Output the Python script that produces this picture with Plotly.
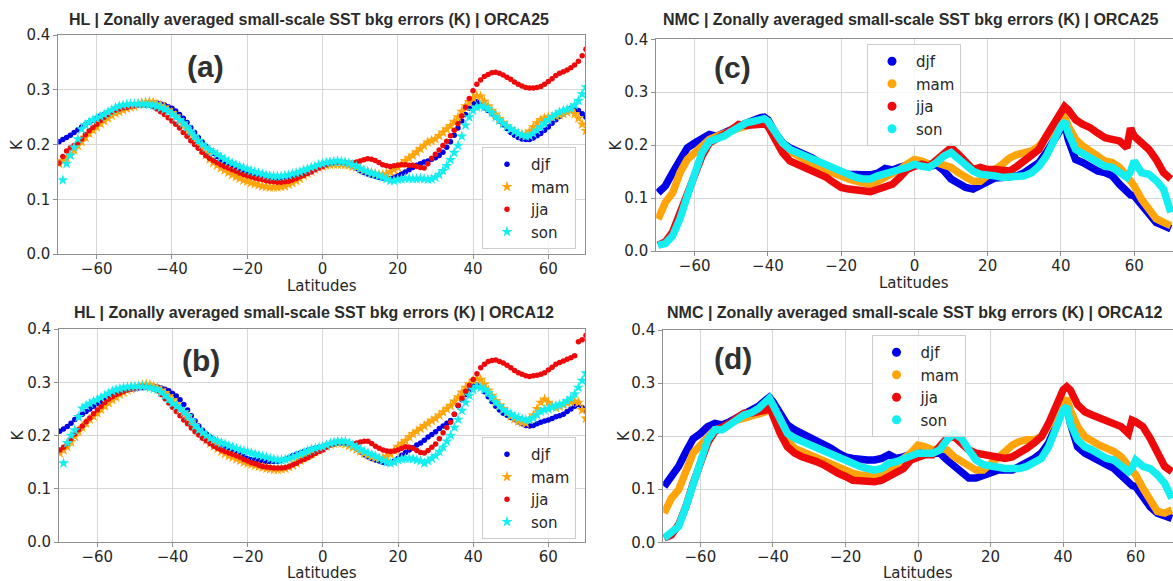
import plotly.graph_objects as go

# ---------------- data ----------------
lat_hl = list(range(-70, 71))

hl25_djf = [
    0.205, 0.209, 0.213, 0.217, 0.222, 0.227, 0.232, 0.236, 0.240, 0.244,
    0.248, 0.252, 0.255, 0.258, 0.260, 0.263, 0.266, 0.268, 0.270, 0.271,
    0.272, 0.273, 0.274, 0.275, 0.276, 0.276, 0.276, 0.274, 0.272, 0.269,
    0.266, 0.261, 0.255, 0.248, 0.240, 0.231, 0.222, 0.213, 0.205, 0.197,
    0.190, 0.184, 0.178, 0.173, 0.168, 0.164, 0.160, 0.156, 0.153, 0.150,
    0.148, 0.146, 0.144, 0.142, 0.140, 0.138, 0.137, 0.136, 0.136, 0.137,
    0.138, 0.140, 0.142, 0.145, 0.148, 0.150, 0.153, 0.156, 0.158, 0.161,
    0.163, 0.165, 0.166, 0.167, 0.168, 0.167, 0.166, 0.163, 0.160, 0.156,
    0.152, 0.149, 0.146, 0.144, 0.142, 0.140, 0.139, 0.138, 0.138, 0.140,
    0.143, 0.146, 0.150, 0.154, 0.158, 0.162, 0.165, 0.168, 0.170, 0.173,
    0.176, 0.180, 0.186, 0.195, 0.205, 0.217, 0.230, 0.243, 0.255, 0.266,
    0.275, 0.278, 0.272, 0.267, 0.262, 0.256, 0.250, 0.243, 0.236, 0.229,
    0.222, 0.217, 0.213, 0.210, 0.209, 0.209, 0.212, 0.216, 0.220, 0.226,
    0.232, 0.239, 0.245, 0.251, 0.256, 0.261, 0.266, 0.266, 0.262, 0.256,
    0.250]
hl25_mam = [
    0.165, 0.170, 0.175, 0.182, 0.190, 0.198, 0.205, 0.213, 0.220, 0.226,
    0.232, 0.238, 0.243, 0.248, 0.253, 0.257, 0.260, 0.263, 0.266, 0.268,
    0.270, 0.273, 0.276, 0.277, 0.278, 0.277, 0.274, 0.271, 0.268, 0.263,
    0.258, 0.252, 0.245, 0.237, 0.228, 0.219, 0.210, 0.200, 0.190, 0.181,
    0.173, 0.167, 0.162, 0.157, 0.153, 0.149, 0.145, 0.141, 0.138, 0.135,
    0.133, 0.130, 0.128, 0.126, 0.124, 0.123, 0.122, 0.122, 0.122, 0.123,
    0.124, 0.127, 0.130, 0.134, 0.138, 0.143, 0.147, 0.151, 0.155, 0.158,
    0.160, 0.162, 0.163, 0.164, 0.164, 0.164, 0.163, 0.162, 0.160, 0.158,
    0.155, 0.152, 0.150, 0.148, 0.146, 0.145, 0.145, 0.146, 0.150, 0.154,
    0.158, 0.164, 0.170, 0.175, 0.180, 0.186, 0.192, 0.198, 0.204, 0.207,
    0.210, 0.216, 0.222, 0.228, 0.234, 0.242, 0.250, 0.260, 0.270, 0.278,
    0.285, 0.289, 0.288, 0.279, 0.270, 0.262, 0.255, 0.247, 0.240, 0.234,
    0.228, 0.224, 0.220, 0.218, 0.218, 0.224, 0.232, 0.239, 0.245, 0.248,
    0.250, 0.251, 0.252, 0.254, 0.256, 0.259, 0.262, 0.256, 0.248, 0.237,
    0.225]
hl25_jja = [
    0.166, 0.178, 0.188, 0.194, 0.198, 0.203, 0.210, 0.218, 0.225, 0.231,
    0.237, 0.244, 0.250, 0.255, 0.260, 0.263, 0.265, 0.267, 0.268, 0.270,
    0.271, 0.272, 0.272, 0.272, 0.272, 0.269, 0.265, 0.260, 0.255, 0.249,
    0.243, 0.237, 0.230, 0.222, 0.215, 0.207, 0.200, 0.193, 0.186, 0.180,
    0.175, 0.171, 0.167, 0.163, 0.160, 0.157, 0.154, 0.151, 0.148, 0.145,
    0.143, 0.141, 0.139, 0.137, 0.136, 0.134, 0.133, 0.132, 0.131, 0.131,
    0.132, 0.133, 0.135, 0.138, 0.141, 0.144, 0.147, 0.150, 0.154, 0.157,
    0.160, 0.163, 0.166, 0.167, 0.168, 0.168, 0.167, 0.166, 0.166, 0.168,
    0.170, 0.172, 0.174, 0.173, 0.171, 0.167, 0.163, 0.161, 0.160, 0.161,
    0.162, 0.163, 0.163, 0.162, 0.162, 0.160, 0.158, 0.157, 0.165, 0.175,
    0.182, 0.190, 0.198, 0.206, 0.216, 0.226, 0.238, 0.252, 0.268, 0.284,
    0.298, 0.310, 0.318, 0.324, 0.328, 0.331, 0.332, 0.330, 0.327, 0.323,
    0.319, 0.314, 0.310, 0.307, 0.304, 0.303, 0.303, 0.304, 0.306, 0.310,
    0.315, 0.320, 0.326, 0.330, 0.333, 0.336, 0.340, 0.345, 0.352, 0.362,
    0.374]
hl25_son = [
    None, 0.135, 0.165, 0.180, 0.195, 0.210, 0.228, 0.236, 0.241, 0.245,
    0.248, 0.251, 0.255, 0.259, 0.263, 0.267, 0.270, 0.272, 0.273, 0.274,
    0.274, 0.274, 0.274, 0.274, 0.273, 0.272, 0.270, 0.267, 0.264, 0.260,
    0.255, 0.250, 0.245, 0.239, 0.232, 0.224, 0.215, 0.207, 0.200, 0.195,
    0.190, 0.186, 0.182, 0.177, 0.173, 0.169, 0.166, 0.163, 0.160, 0.157,
    0.155, 0.152, 0.150, 0.148, 0.146, 0.144, 0.143, 0.142, 0.142, 0.142,
    0.143, 0.144, 0.146, 0.148, 0.150, 0.153, 0.155, 0.158, 0.160, 0.163,
    0.165, 0.167, 0.168, 0.169, 0.170, 0.169, 0.168, 0.166, 0.163, 0.160,
    0.156, 0.153, 0.150, 0.148, 0.146, 0.143, 0.140, 0.137, 0.134, 0.134,
    0.136, 0.137, 0.138, 0.138, 0.137, 0.137, 0.138, 0.137, 0.136, 0.137,
    0.140, 0.145, 0.152, 0.161, 0.172, 0.185, 0.198, 0.215, 0.235, 0.250,
    0.262, 0.268, 0.270, 0.268, 0.265, 0.258, 0.250, 0.244, 0.238, 0.233,
    0.228, 0.224, 0.220, 0.217, 0.215, 0.216, 0.220, 0.226, 0.232, 0.239,
    0.245, 0.250, 0.255, 0.259, 0.262, 0.264, 0.266, 0.272, 0.280, 0.292,
    0.305]

hl12_djf = [
    0.208, 0.212, 0.217, 0.223, 0.230, 0.235, 0.240, 0.245, 0.250, 0.255,
    0.260, 0.264, 0.268, 0.272, 0.275, 0.278, 0.280, 0.283, 0.285, 0.287,
    0.288, 0.289, 0.290, 0.291, 0.292, 0.292, 0.291, 0.289, 0.287, 0.284,
    0.279, 0.274, 0.267, 0.258, 0.248, 0.237, 0.227, 0.218, 0.210, 0.203,
    0.197, 0.192, 0.188, 0.184, 0.180, 0.176, 0.172, 0.168, 0.164, 0.160,
    0.157, 0.155, 0.154, 0.153, 0.152, 0.151, 0.151, 0.151, 0.151, 0.153,
    0.155, 0.158, 0.162, 0.165, 0.167, 0.170, 0.172, 0.174, 0.176, 0.178,
    0.179, 0.182, 0.184, 0.186, 0.188, 0.188, 0.186, 0.183, 0.179, 0.174,
    0.169, 0.164, 0.160, 0.157, 0.154, 0.152, 0.150, 0.149, 0.149, 0.152,
    0.157, 0.163, 0.168, 0.173, 0.177, 0.182, 0.186, 0.191, 0.197, 0.202,
    0.207, 0.213, 0.218, 0.223, 0.228, 0.240, 0.256, 0.267, 0.277, 0.286,
    0.293, 0.295, 0.290, 0.282, 0.273, 0.264, 0.255, 0.248, 0.242, 0.238,
    0.234, 0.230, 0.226, 0.222, 0.219, 0.218, 0.219, 0.222, 0.225, 0.227,
    0.229, 0.232, 0.235, 0.237, 0.240, 0.245, 0.250, 0.255, 0.258, 0.252,
    0.245]
hl12_mam = [
    0.167, 0.173, 0.179, 0.188, 0.198, 0.207, 0.215, 0.223, 0.230, 0.236,
    0.242, 0.249, 0.255, 0.261, 0.267, 0.272, 0.277, 0.281, 0.285, 0.288,
    0.290, 0.293, 0.295, 0.296, 0.295, 0.292, 0.289, 0.285, 0.280, 0.274,
    0.267, 0.259, 0.250, 0.243, 0.235, 0.225, 0.215, 0.206, 0.198, 0.191,
    0.185, 0.180, 0.175, 0.170, 0.166, 0.162, 0.159, 0.156, 0.153, 0.150,
    0.148, 0.146, 0.144, 0.142, 0.140, 0.138, 0.137, 0.136, 0.136, 0.137,
    0.138, 0.141, 0.144, 0.148, 0.153, 0.158, 0.162, 0.166, 0.170, 0.173,
    0.176, 0.180, 0.183, 0.185, 0.186, 0.186, 0.184, 0.181, 0.178, 0.174,
    0.170, 0.166, 0.163, 0.160, 0.158, 0.157, 0.158, 0.161, 0.165, 0.172,
    0.179, 0.185, 0.190, 0.197, 0.203, 0.208, 0.213, 0.218, 0.223, 0.228,
    0.232, 0.238, 0.244, 0.250, 0.256, 0.264, 0.272, 0.281, 0.290, 0.297,
    0.303, 0.307, 0.305, 0.296, 0.285, 0.275, 0.265, 0.257, 0.250, 0.243,
    0.236, 0.231, 0.227, 0.224, 0.223, 0.230, 0.238, 0.250, 0.262, 0.268,
    0.262, 0.255, 0.252, 0.255, 0.258, 0.261, 0.263, 0.264, 0.262, 0.248,
    0.232]
hl12_jja = [
    0.173, 0.178, 0.185, 0.194, 0.203, 0.211, 0.218, 0.226, 0.233, 0.241,
    0.248, 0.255, 0.262, 0.268, 0.273, 0.277, 0.280, 0.283, 0.286, 0.288,
    0.289, 0.291, 0.292, 0.291, 0.290, 0.288, 0.284, 0.277, 0.269, 0.261,
    0.253, 0.245, 0.237, 0.229, 0.222, 0.214, 0.207, 0.201, 0.195, 0.190,
    0.185, 0.180, 0.176, 0.173, 0.170, 0.167, 0.165, 0.162, 0.159, 0.155,
    0.152, 0.149, 0.147, 0.144, 0.142, 0.141, 0.140, 0.139, 0.139, 0.139,
    0.140, 0.142, 0.145, 0.148, 0.152, 0.155, 0.158, 0.162, 0.166, 0.170,
    0.173, 0.178, 0.182, 0.184, 0.186, 0.186, 0.186, 0.185, 0.185, 0.186,
    0.188, 0.189, 0.189, 0.185, 0.180, 0.176, 0.173, 0.171, 0.170, 0.171,
    0.173, 0.176, 0.179, 0.178, 0.176, 0.172, 0.168, 0.167, 0.172, 0.178,
    0.184, 0.194, 0.205, 0.215, 0.225, 0.240, 0.257, 0.270, 0.283, 0.294,
    0.305, 0.316, 0.327, 0.334, 0.339, 0.341, 0.342, 0.339, 0.336, 0.332,
    0.327, 0.322, 0.318, 0.315, 0.312, 0.311, 0.312, 0.313, 0.315, 0.318,
    0.323, 0.328, 0.334, 0.337, 0.340, 0.343, 0.346, 0.350, 0.376, 0.380,
    0.388]
hl12_son = [
    None, 0.148, 0.186, 0.200, 0.210, 0.235, 0.251, 0.256, 0.260, 0.264,
    0.267, 0.271, 0.275, 0.279, 0.283, 0.286, 0.288, 0.290, 0.291, 0.292,
    0.292, 0.292, 0.292, 0.291, 0.290, 0.288, 0.286, 0.281, 0.275, 0.268,
    0.260, 0.255, 0.250, 0.244, 0.237, 0.228, 0.218, 0.211, 0.205, 0.200,
    0.195, 0.192, 0.189, 0.186, 0.184, 0.181, 0.178, 0.175, 0.173, 0.171,
    0.169, 0.167, 0.165, 0.163, 0.161, 0.159, 0.157, 0.155, 0.154, 0.154,
    0.155, 0.157, 0.159, 0.162, 0.165, 0.168, 0.171, 0.174, 0.176, 0.178,
    0.179, 0.182, 0.185, 0.187, 0.189, 0.189, 0.189, 0.186, 0.182, 0.178,
    0.174, 0.170, 0.167, 0.164, 0.161, 0.157, 0.153, 0.150, 0.148, 0.150,
    0.154, 0.156, 0.157, 0.157, 0.156, 0.154, 0.152, 0.148, 0.152, 0.157,
    0.162, 0.170, 0.178, 0.189, 0.200, 0.215, 0.230, 0.247, 0.262, 0.275,
    0.286, 0.292, 0.290, 0.286, 0.280, 0.271, 0.262, 0.255, 0.248, 0.244,
    0.240, 0.236, 0.233, 0.231, 0.229, 0.230, 0.233, 0.239, 0.245, 0.248,
    0.250, 0.253, 0.256, 0.258, 0.260, 0.265, 0.270, 0.278, 0.290, 0.303,
    0.317]

lat_nmc = [-70, -68, -66, -64, -62, -60, -58, -56, -54, -52, -50, -48, -46, -44, -42, -41,
           -40, -38, -36, -34, -32, -30, -28, -26, -24, -22, -20, -18, -16, -14, -12, -10,
           -8, -6, -4, -2, 0, 2, 4, 6, 8, 10, 12, 14, 16, 18, 20, 22, 24, 26, 28, 30, 32,
           34, 36, 38, 40, 41, 42, 44, 46, 48, 50, 52, 54, 56, 58, 59, 60, 62, 64, 66, 68, 70]

nmc25_djf = [0.110, 0.123, 0.148, 0.175, 0.195, 0.204, 0.214, 0.220, 0.217, 0.222, 0.229, 0.236, 0.242, 0.248, 0.252, 0.253,
             0.248, 0.223, 0.204, 0.195, 0.189, 0.183, 0.176, 0.167, 0.160, 0.154, 0.148, 0.145, 0.146, 0.144, 0.144, 0.147,
             0.156, 0.153, 0.158, 0.163, 0.166, 0.164, 0.160, 0.163, 0.152, 0.136, 0.126, 0.120, 0.117, 0.123, 0.132, 0.138,
             0.139, 0.139, 0.142, 0.148, 0.157, 0.167, 0.186, 0.211, 0.236, 0.242, 0.211, 0.173, 0.167, 0.160, 0.151, 0.148,
             0.142, 0.126, 0.110, 0.106, 0.104, 0.086, 0.067, 0.054, 0.048, 0.042]
nmc25_mam = [0.060, 0.092, 0.110, 0.148, 0.173, 0.186, 0.198, 0.211, 0.217, 0.223, 0.229, 0.232, 0.236, 0.242, 0.245, 0.248,
             0.245, 0.220, 0.198, 0.189, 0.180, 0.173, 0.165, 0.158, 0.152, 0.148, 0.142, 0.136, 0.132, 0.129, 0.126, 0.132,
             0.139, 0.148, 0.154, 0.164, 0.173, 0.170, 0.164, 0.167, 0.164, 0.158, 0.148, 0.139, 0.132, 0.132, 0.145, 0.154,
             0.164, 0.176, 0.182, 0.186, 0.189, 0.198, 0.217, 0.232, 0.248, 0.254, 0.236, 0.211, 0.198, 0.189, 0.179, 0.170,
             0.167, 0.158, 0.142, 0.133, 0.123, 0.098, 0.079, 0.061, 0.054, 0.048]
nmc25_jja = [0.011, 0.017, 0.036, 0.073, 0.110, 0.148, 0.179, 0.204, 0.214, 0.220, 0.229, 0.239, 0.237, 0.239, 0.241, 0.240,
             0.236, 0.211, 0.186, 0.170, 0.164, 0.158, 0.151, 0.145, 0.139, 0.129, 0.120, 0.117, 0.117, 0.114, 0.112, 0.117,
             0.120, 0.126, 0.139, 0.154, 0.160, 0.164, 0.160, 0.173, 0.186, 0.195, 0.183, 0.167, 0.154, 0.158, 0.154, 0.154,
             0.151, 0.151, 0.160, 0.170, 0.179, 0.192, 0.217, 0.242, 0.261, 0.273, 0.267, 0.248, 0.239, 0.233, 0.223, 0.214,
             0.211, 0.208, 0.195, 0.232, 0.217, 0.204, 0.192, 0.173, 0.148, 0.136]
nmc25_son = [0.011, 0.014, 0.029, 0.061, 0.104, 0.148, 0.186, 0.207, 0.211, 0.217, 0.226, 0.236, 0.242, 0.245, 0.248, 0.250,
             0.245, 0.223, 0.204, 0.192, 0.186, 0.179, 0.173, 0.167, 0.160, 0.154, 0.148, 0.142, 0.139, 0.136, 0.136, 0.142,
             0.145, 0.148, 0.154, 0.158, 0.164, 0.160, 0.158, 0.167, 0.179, 0.186, 0.173, 0.160, 0.151, 0.145, 0.145, 0.142,
             0.139, 0.139, 0.139, 0.142, 0.148, 0.160, 0.179, 0.211, 0.236, 0.245, 0.223, 0.192, 0.183, 0.176, 0.167, 0.160,
             0.158, 0.148, 0.139, 0.150, 0.170, 0.148, 0.145, 0.133, 0.117, 0.073]

nmc12_djf = [0.105, 0.124, 0.143, 0.170, 0.195, 0.205, 0.218, 0.224, 0.221, 0.227, 0.234, 0.240, 0.246, 0.256, 0.268, 0.273,
             0.265, 0.240, 0.221, 0.212, 0.205, 0.199, 0.193, 0.187, 0.177, 0.168, 0.161, 0.158, 0.155, 0.155, 0.155, 0.158,
             0.165, 0.158, 0.161, 0.165, 0.171, 0.168, 0.168, 0.168, 0.155, 0.143, 0.130, 0.121, 0.121, 0.127, 0.133, 0.136,
             0.136, 0.136, 0.143, 0.149, 0.158, 0.168, 0.187, 0.218, 0.252, 0.259, 0.224, 0.180, 0.168, 0.161, 0.155, 0.146,
             0.139, 0.127, 0.111, 0.107, 0.105, 0.086, 0.067, 0.055, 0.048, 0.045]
nmc12_mam = [0.055, 0.083, 0.099, 0.136, 0.168, 0.183, 0.196, 0.212, 0.215, 0.224, 0.230, 0.234, 0.238, 0.242, 0.246, 0.252,
             0.243, 0.218, 0.193, 0.177, 0.171, 0.165, 0.158, 0.152, 0.146, 0.139, 0.136, 0.130, 0.127, 0.124, 0.124, 0.127,
             0.136, 0.146, 0.158, 0.168, 0.183, 0.180, 0.174, 0.177, 0.174, 0.161, 0.152, 0.143, 0.136, 0.136, 0.149, 0.158,
             0.171, 0.183, 0.190, 0.193, 0.193, 0.199, 0.218, 0.240, 0.262, 0.271, 0.249, 0.218, 0.199, 0.190, 0.183, 0.177,
             0.171, 0.161, 0.146, 0.137, 0.127, 0.102, 0.080, 0.058, 0.055, 0.061]
nmc12_jja = [0.008, 0.014, 0.033, 0.067, 0.111, 0.152, 0.187, 0.209, 0.215, 0.224, 0.234, 0.243, 0.243, 0.246, 0.249, 0.256,
             0.237, 0.205, 0.180, 0.168, 0.161, 0.158, 0.152, 0.146, 0.136, 0.130, 0.124, 0.117, 0.116, 0.114, 0.114, 0.117,
             0.124, 0.133, 0.139, 0.155, 0.161, 0.165, 0.165, 0.180, 0.196, 0.199, 0.187, 0.174, 0.168, 0.165, 0.161, 0.161,
             0.158, 0.161, 0.168, 0.177, 0.187, 0.199, 0.224, 0.256, 0.287, 0.293, 0.287, 0.259, 0.246, 0.240, 0.234, 0.227,
             0.224, 0.218, 0.205, 0.230, 0.227, 0.218, 0.196, 0.168, 0.143, 0.133]
nmc12_son = [0.008, 0.017, 0.030, 0.067, 0.111, 0.155, 0.193, 0.212, 0.212, 0.221, 0.230, 0.240, 0.244, 0.252, 0.265, 0.271,
             0.259, 0.230, 0.205, 0.196, 0.190, 0.183, 0.177, 0.171, 0.165, 0.158, 0.152, 0.146, 0.143, 0.139, 0.136, 0.139,
             0.149, 0.152, 0.158, 0.165, 0.168, 0.168, 0.168, 0.174, 0.193, 0.205, 0.196, 0.174, 0.155, 0.146, 0.143, 0.143,
             0.139, 0.139, 0.139, 0.143, 0.149, 0.158, 0.180, 0.218, 0.249, 0.256, 0.224, 0.193, 0.180, 0.174, 0.165, 0.158,
             0.155, 0.146, 0.133, 0.140, 0.155, 0.143, 0.139, 0.127, 0.111, 0.083]

seasons = ["djf", "mam", "jja", "son"]
x_ticks = [-60, -40, -20, 0, 20, 40, 60]
y_ticks = [0.0, 0.1, 0.2, 0.3, 0.4]
y_ticktext = ["0.0", "0.1", "0.2", "0.3", "0.4"]

for arr in [hl25_djf, hl25_mam, hl25_jja, hl25_son, hl12_djf, hl12_mam, hl12_jja, hl12_son]:
    assert len(arr) == len(lat_hl), len(arr)
for arr in [nmc25_djf, nmc25_mam, nmc25_jja, nmc25_son, nmc12_djf, nmc12_mam, nmc12_jja, nmc12_son]:
    assert len(arr) == len(lat_nmc), len(arr)

# ---------------- styling ----------------
W, H = 1173, 581
colors = {"djf": "#0000e8", "mam": "#ffa50a", "jja": "#ee0a0a", "son": "#14eef0"}
symbols = {"djf": "circle", "mam": "star", "jja": "circle", "son": "star"}
msize = {"djf": 5.5, "mam": 8.5, "jja": 5.5, "son": 8.5}

def fx(p):
    return p / W

def fy(p):
    return 1 - p / H

panels = [
    dict(kind="hl", data=[hl25_djf, hl25_mam, hl25_jja, hl25_son], ax="", leg="legend",
         xdom=(58.3, 585.0), ydom=(35.0, 254.0), xr=(-70.2, 69.75),
         title="HL | Zonally averaged small-scale SST bkg errors (K) | ORCA25", tpos=(308.5, 19.5),
         lab="(a)", lpos=(205, 66), xlab=(322, 285.5), ylab=(17, 145), legpos=(482, 147)),
    dict(kind="hl", data=[hl12_djf, hl12_mam, hl12_jja, hl12_son], ax="2", leg="legend2",
         xdom=(59.0, 585.0), ydom=(329.0, 542.0), xr=(-70.2, 69.75),
         title="HL | Zonally averaged small-scale SST bkg errors (K) | ORCA12", tpos=(314, 312.5),
         lab="(b)", lpos=(201, 360), xlab=(322, 573), ylab=(17, 435.5), legpos=(482, 437)),
    dict(kind="nmc", data=[nmc25_djf, nmc25_mam, nmc25_jja, nmc25_son], ax="3", leg="legend3",
         xdom=(656.2, 1173.0), ydom=(39.3, 251.0), xr=(-70.5, 70.6),
         title="NMC | Zonally averaged small-scale SST bkg errors (K) | ORCA25", tpos=(910, 19.5),
         lab="(c)", lpos=(732, 67), xlab=(913.5, 282.5), ylab=(615.5, 145), legpos=(867, 44)),
    dict(kind="nmc", data=[nmc12_djf, nmc12_mam, nmc12_jja, nmc12_son], ax="4", leg="legend4",
         xdom=(663.2, 1173.0), ydom=(330.0, 542.3), xr=(-70.25, 70.3),
         title="NMC | Zonally averaged small-scale SST bkg errors (K) | ORCA12", tpos=(914, 312.5),
         lab="(d)", lpos=(733, 358), xlab=(917.5, 573), ylab=(623.5, 435.5), legpos=(871.5, 335)),
]

tick_font = dict(family="DejaVu Sans", size=15, color="#262626")
axis_common = dict(showline=True, linecolor="#8f8f8f", linewidth=1, mirror=True,
                   showgrid=True, gridcolor="#d6d6d6", gridwidth=1, zeroline=False,
                   ticks="outside", ticklen=4, tickwidth=1, tickcolor="#8f8f8f",
                   tickfont=tick_font, automargin=False, fixedrange=True)

fig = go.Figure()
layout = dict(width=W, height=H, margin=dict(l=0, r=0, t=0, b=0),
              paper_bgcolor="white", plot_bgcolor="white", showlegend=True,
              template="none")
annotations = []

for p in panels:
    xa, ya = "x" + p["ax"], "y" + p["ax"]
    for s, vals in zip(seasons, p["data"]):
        if p["kind"] == "hl":
            fig.add_trace(go.Scatter(
                x=lat_hl, y=vals, mode="markers", name=s, legend=p["leg"],
                xaxis=xa, yaxis=ya,
                marker=dict(color=colors[s], symbol=symbols[s], size=msize[s], line=dict(width=0))))
        else:
            fig.add_trace(go.Scatter(
                x=lat_nmc, y=vals, mode="lines", name=s, showlegend=False,
                xaxis=xa, yaxis=ya, line=dict(color=colors[s], width=7.5)))
    if p["kind"] == "nmc":
        for s in seasons:
            fig.add_trace(go.Scatter(
                x=[None], y=[None], mode="markers", name=s, legend=p["leg"],
                xaxis=xa, yaxis=ya, marker=dict(color=colors[s], size=9)))

    layout["xaxis" + p["ax"]] = dict(domain=[fx(p["xdom"][0]), min(1.0, fx(p["xdom"][1]))],
                                     range=list(p["xr"]), anchor=ya, tickvals=x_ticks,
                                     ticklabelstandoff=-3, **axis_common)
    layout["yaxis" + p["ax"]] = dict(domain=[fy(p["ydom"][1]), fy(p["ydom"][0])],
                                     range=[0, 0.4], anchor=xa, tickvals=y_ticks,
                                     ticktext=y_ticktext, **axis_common)
    layout[p["leg"]] = dict(x=fx(p["legpos"][0]), y=fy(p["legpos"][1]), xanchor="left", yanchor="top",
                            bgcolor="rgba(255,255,255,0.85)", bordercolor="#cccccc", borderwidth=1,
                            font=dict(family="DejaVu Sans", size=15, color="#262626"),
                            itemwidth=38, tracegroupgap=0, itemclick=False, itemdoubleclick=False)

    annotations.append(dict(text="<b>" + p["title"] + "</b>", x=fx(p["tpos"][0]), y=fy(p["tpos"][1]),
                            xref="paper", yref="paper", xanchor="center", yanchor="middle", showarrow=False,
                            font=dict(family="Liberation Sans", size=16, color="#2b2b2b")))
    annotations.append(dict(text="<b>" + p["lab"] + "</b>", x=fx(p["lpos"][0]), y=fy(p["lpos"][1]),
                            xref="paper", yref="paper", xanchor="center", yanchor="middle", showarrow=False,
                            font=dict(family="Liberation Sans", size=30, color="#303030")))
    annotations.append(dict(text="Latitudes", x=fx(p["xlab"][0]), y=fy(p["xlab"][1]),
                            xref="paper", yref="paper", xanchor="center", yanchor="middle", showarrow=False,
                            font=dict(family="DejaVu Sans", size=15, color="#262626")))
    annotations.append(dict(text="K", x=fx(p["ylab"][0]), y=fy(p["ylab"][1]), textangle=-90,
                            xref="paper", yref="paper", xanchor="center", yanchor="middle", showarrow=False,
                            font=dict(family="DejaVu Sans", size=15, color="#262626")))

layout["annotations"] = annotations
fig.update_layout(**layout)
fig.write_html("out.html")
